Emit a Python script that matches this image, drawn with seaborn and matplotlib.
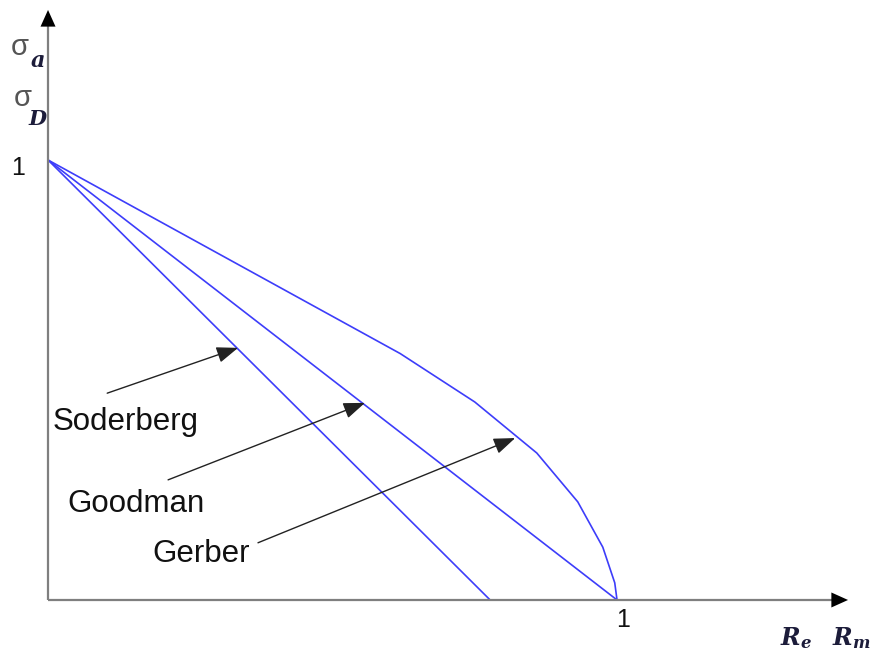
import numpy as np
import pandas as pd
import matplotlib
matplotlib.use("Agg")
import matplotlib.pyplot as plt
import seaborn as sns

# Fatigue criteria (normalised): alternating stress vs. mean stress
soderberg_x = [0.0, 0.777]
soderberg_y = [1.0, 0.0]

goodman_x = [0.0, 1.0]
goodman_y = [1.0, 0.0]

gerber_x = [0.0, 0.619, 0.750, 0.859, 0.931, 0.975, 0.996, 1.0]
gerber_y = [1.0, 0.560, 0.450, 0.334, 0.223, 0.120, 0.039, 0.0]

curve_names = ["Soderberg", "Goodman", "Gerber"]
label_tips = [(0.334, 0.573), (0.557, 0.448), (0.821, 0.368)]
label_tails = [(0.104, 0.470), (0.211, 0.273), (0.369, 0.130)]
label_pos = [(0.008, 0.386), (0.034, 0.200), (0.184, 0.086)]

sns.set_theme(style="white")
plt.rcParams["font.family"] = ["Liberation Sans", "DejaVu Sans"]
plt.rcParams["mathtext.fontset"] = "dejavuserif"

frames = []
for name, xs, ys in [("Soderberg", soderberg_x, soderberg_y),
                     ("Goodman", goodman_x, goodman_y),
                     ("Gerber", gerber_x, gerber_y)]:
    frames.append(pd.DataFrame({"x": xs, "y": ys, "curve": name,
                                "order": range(len(xs))}))
df = pd.concat(frames, ignore_index=True)

fig = plt.figure(figsize=(8.77, 6.53), dpi=100)
ax = fig.add_axes([0, 0, 1, 1])
ax.set_xlim(-0.0844, 1.4569)
ax.set_ylim(-0.1205, 1.3636)
ax.axis("off")

blue = "#3d3dfa"
sns.lineplot(data=df, x="x", y="y", units="curve", estimator=None, sort=False,
             color=blue, linewidth=1.2, ax=ax, legend=False)

# Axes with arrowheads
axis_grey = "#7f7f7f"
x_tip = 1.406
y_tip = 1.341
ax.plot([0, x_tip - 0.02], [0, 0], color=axis_grey, lw=1.6, solid_capstyle="butt", zorder=3)
ax.plot([0, 0], [-0.0, y_tip - 0.03], color=axis_grey, lw=1.6, solid_capstyle="butt", zorder=3)
ax.annotate("", xy=(x_tip, 0), xytext=(x_tip - 0.05, 0),
            arrowprops=dict(arrowstyle="-|>,head_length=1.0,head_width=0.45",
                            mutation_scale=12, color="black", lw=0,
                            shrinkA=0, shrinkB=0), zorder=4)
ax.annotate("", xy=(0, y_tip), xytext=(0, y_tip - 0.06),
            arrowprops=dict(arrowstyle="-|>,head_length=1.0,head_width=0.45",
                            mutation_scale=12, color="black", lw=0,
                            shrinkA=0, shrinkB=0), zorder=4)

# Labels with pointer arrows
for name, tip, tail, pos in zip(curve_names, label_tips, label_tails, label_pos):
    ax.annotate("", xy=tip, xytext=tail,
                arrowprops=dict(arrowstyle="-|>,head_length=1.2,head_width=0.45",
                                mutation_scale=11, color="#222222", lw=1.0,
                                shrinkA=0, shrinkB=0))
    ax.text(pos[0], pos[1], name, fontsize=22.5, color="#111111",
            ha="left", va="baseline")

# Unit ticks
ax.text(-0.053, 0.966, "1", fontsize=18, color="#111111", ha="center", va="baseline")
ax.text(1.010, -0.061, "1", fontsize=18, color="#111111", ha="center", va="baseline")

# Ordinate symbols
sub_color = "#1c1c3a"
ax.text(-0.065, 1.238, "σ", fontsize=21, color="#555555", ha="left", va="baseline")
ax.text(-0.032, 1.212, r"$\mathbfit{a}$", fontsize=16, color=sub_color, ha="left", va="baseline")
ax.text(-0.060, 1.122, "σ", fontsize=21, color="#555555", ha="left", va="baseline")
ax.text(-0.036, 1.080, r"$\mathbfit{D}$", fontsize=15, color=sub_color, ha="left", va="baseline")

# Abscissa symbols
ax.text(1.286, -0.102, r"$\mathbfit{R}_{\mathbfit{e}}$", fontsize=17, color=sub_color,
        ha="left", va="baseline")
ax.text(1.378, -0.102, r"$\mathbfit{R}_{\mathbfit{m}}$", fontsize=17, color=sub_color,
        ha="left", va="baseline")

fig.savefig("out.png", dpi=100)
